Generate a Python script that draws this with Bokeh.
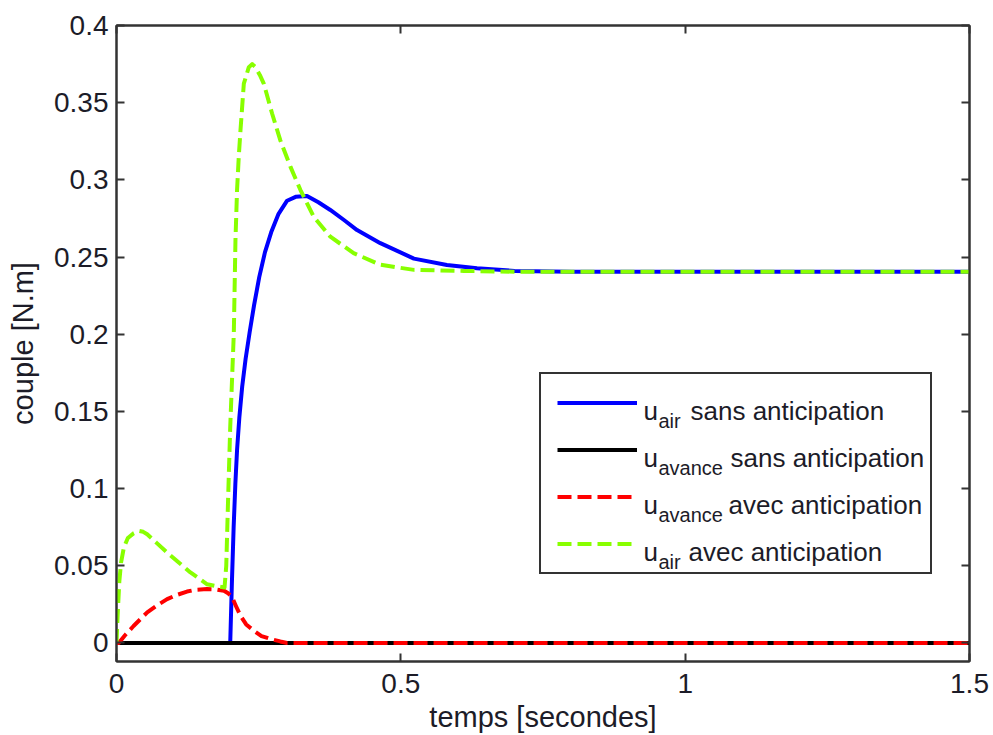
from bokeh.plotting import figure
from bokeh.models import (Range1d, FixedTicker, LinearAxis, Legend, LegendItem,
                          CustomJSTickFormatter)
from bokeh.core.properties import value
from bokeh.embed import file_html
from bokeh.resources import INLINE

# ---------------- data ----------------
t_air_sans = [0, 0.2, 0.203, 0.206, 0.209, 0.212, 0.216, 0.221, 0.227, 0.234,
              0.242, 0.251, 0.261, 0.272, 0.285, 0.300, 0.315, 0.335, 0.355,
              0.376, 0.400, 0.423, 0.464, 0.523, 0.581, 0.634, 0.70, 0.80, 1.5]
u_air_sans = [0, 0, 0.04, 0.075, 0.103, 0.125, 0.146, 0.166, 0.184, 0.201,
              0.219, 0.237, 0.253, 0.266, 0.278, 0.2865, 0.289, 0.2895, 0.2855,
              0.2805, 0.274, 0.2675, 0.259, 0.249, 0.2449, 0.2428, 0.241, 0.2405, 0.2405]

t_avance_sans = [0, 1.5]
u_avance_sans = [0, 0]

t_avance_avec = [0, 0.004, 0.015, 0.030, 0.054, 0.070, 0.089, 0.105, 0.124, 0.14,
                 0.159, 0.175, 0.189, 0.197, 0.2035, 0.21, 0.218, 0.228, 0.2414,
                 0.255, 0.2708, 0.288, 0.30, 1.5]
u_avance_avec = [0, 0, 0.005, 0.011, 0.0198, 0.024, 0.0284, 0.031, 0.0333, 0.0345,
                 0.0349, 0.0347, 0.0338, 0.032, 0.0295, 0.024, 0.0176, 0.012, 0.008,
                 0.0045, 0.0026, 0.001, 0, 0]

t_air_avec = [0, 0.002, 0.005, 0.008, 0.013, 0.02, 0.03, 0.039, 0.047, 0.054,
              0.07, 0.089, 0.11, 0.13, 0.1594, 0.18, 0.19, 0.193, 0.196, 0.2,
              0.2063, 0.2092, 0.212, 0.215, 0.218, 0.2239, 0.2327, 0.2385, 0.2444,
              0.252, 0.259, 0.2736, 0.288, 0.306, 0.3235, 0.347, 0.376, 0.417,
              0.464, 0.523, 0.611, 0.7, 1.5]
u_air_avec = [0, 0.018, 0.04, 0.052, 0.062, 0.068, 0.071, 0.0726, 0.072, 0.0704,
              0.065, 0.0586, 0.052, 0.0457, 0.038, 0.0365, 0.036, 0.05, 0.09, 0.14,
              0.2008, 0.261, 0.2934, 0.315, 0.332, 0.3623, 0.373, 0.375, 0.373,
              0.368, 0.3623, 0.343, 0.3257, 0.3084, 0.2934, 0.276, 0.2632, 0.2525,
              0.245, 0.2417, 0.241, 0.2405, 0.2405]

x_ticks = [0, 0.5, 1, 1.5]
y_ticks = [0, 0.05, 0.1, 0.15, 0.2, 0.25, 0.3, 0.35, 0.4]
x_label = "temps [secondes]"
y_label = "couple [N.m]"
legend_main = ["u", "u", "u", "u"]
legend_sub = ["air", "avance", "avance", "air"]
legend_rest = ["sans anticipation", "sans anticipation",
               "avec anticipation", "avec anticipation"]

# ---------------- styling / layout ----------------
FONT = "Liberation Sans"
TXT = "#1c1c28"
FRAME = "#333333"
W, H = 993, 735
BL, BR, BT, BB = 116, 24, 25, 73
FW, FH = W - BL - BR, H - BT - BB   # frame size in pixels

p = figure(width=W, height=H, output_backend="svg", toolbar_location=None,
           x_range=Range1d(0, 1.5), y_range=Range1d(-0.012, 0.4),
           min_border_left=BL, min_border_right=BR, min_border_top=BT,
           min_border_bottom=BB, x_axis_label=x_label, y_axis_label=y_label)
# pixel coordinate system of the frame, used only to place the legend texts
p.extra_x_ranges = {"px": Range1d(0, FW)}
p.extra_y_ranges = {"px": Range1d(0, FH)}
p.grid.visible = False
p.background_fill_color = "white"
p.border_fill_color = "white"
p.outline_line_color = FRAME
p.outline_line_width = 2
p.outline_line_alpha = 1

fmt = CustomJSTickFormatter(code="return tick.toFixed(2).replace(/\\.?0+$/, '');")

for ax, ticks in ((p.xaxis[0], x_ticks), (p.yaxis[0], y_ticks)):
    ax.ticker = FixedTicker(ticks=ticks)
    ax.formatter = fmt
    ax.major_tick_in = 8
    ax.major_tick_out = 0
    ax.minor_tick_line_color = None
    ax.major_tick_line_color = FRAME
    ax.major_tick_line_width = 2
    ax.axis_line_color = FRAME
    ax.axis_line_width = 2
    ax.major_label_text_font = FONT
    ax.major_label_text_font_size = "28px"
    ax.major_label_text_color = TXT
    ax.axis_label_text_font = FONT
    ax.axis_label_text_font_size = "29px"
    ax.axis_label_text_font_style = "normal"
    ax.axis_label_text_color = TXT

p.xaxis[0].major_label_standoff = 12
p.xaxis[0].axis_label_standoff = 5
p.yaxis[0].major_label_standoff = 8
p.yaxis[0].axis_label_standoff = 12

# mirrored tick marks on top and right
for ticks, side in ((y_ticks, "right"), (x_ticks, "above")):
    a = LinearAxis(ticker=FixedTicker(ticks=ticks),
                   formatter=CustomJSTickFormatter(code="return '';"),
                   major_label_text_font_size="0px", major_label_standoff=0,
                   major_tick_in=8, major_tick_out=0,
                   minor_tick_line_color=None, major_tick_line_color=FRAME,
                   major_tick_line_width=2, axis_line_color=FRAME, axis_line_width=2)
    p.add_layout(a, side)

# ---------------- series ----------------
r1 = p.line(t_air_sans, u_air_sans, line_color="#0000FF", line_width=4, line_join="round")
r2 = p.line(t_avance_sans, u_avance_sans, line_color="#000000", line_width=4)
r3 = p.line(t_avance_avec, u_avance_avec, line_color="#FF0000", line_width=4,
            line_dash="14 6", line_join="round")
r4 = p.line(t_air_avec, u_air_avec, line_color="#88FF00", line_width=4,
            line_dash="14 6", line_join="round")

# ---------------- legend ----------------
PAD, ROW_H, SPACING = 16, 25, 22
LEG_X, LEG_Y = 423, 87
legend = Legend(items=[LegendItem(label=legend_rest[i] + str(i), renderers=[r])
                       for i, r in enumerate([r1, r2, r3, r4])],
                location=(LEG_X, LEG_Y), padding=PAD, spacing=SPACING,
                glyph_width=80, glyph_height=ROW_H, label_height=ROW_H,
                label_width=269, label_standoff=8, margin=0,
                label_text_font_size="1px", label_text_alpha=0,
                border_line_color=FRAME, border_line_width=2, border_line_alpha=1,
                background_fill_color="white", background_fill_alpha=0)
p.add_layout(legend)

leg_h = 2 * PAD + 4 * ROW_H + 3 * SPACING
leg_top = LEG_Y + leg_h
rest_x = [574, 614, 612, 572]
centers = [leg_top - PAD - ROW_H / 2 - i * (ROW_H + SPACING) for i in range(4)]

main_x, main_y, main_t = [], [], []
for i in range(4):
    main_x += [527, rest_x[i]]
    main_y += [centers[i] - 6, centers[i] - 6]
    main_t += [legend_main[i], legend_rest[i]]

p.text(x=main_x, y=main_y, text=main_t, text_font=value(FONT),
       text_font_size="26px", text_color=TXT, text_baseline="alphabetic",
       text_align="left", x_range_name="px", y_range_name="px", level="overlay")
p.text(x=[542] * 4, y=[c - 16 for c in centers], text=legend_sub,
       text_font=value(FONT), text_font_size="20px", text_color=TXT,
       text_baseline="alphabetic", text_align="left",
       x_range_name="px", y_range_name="px", level="overlay")

open("out.html", "w").write(file_html(p, INLINE))
